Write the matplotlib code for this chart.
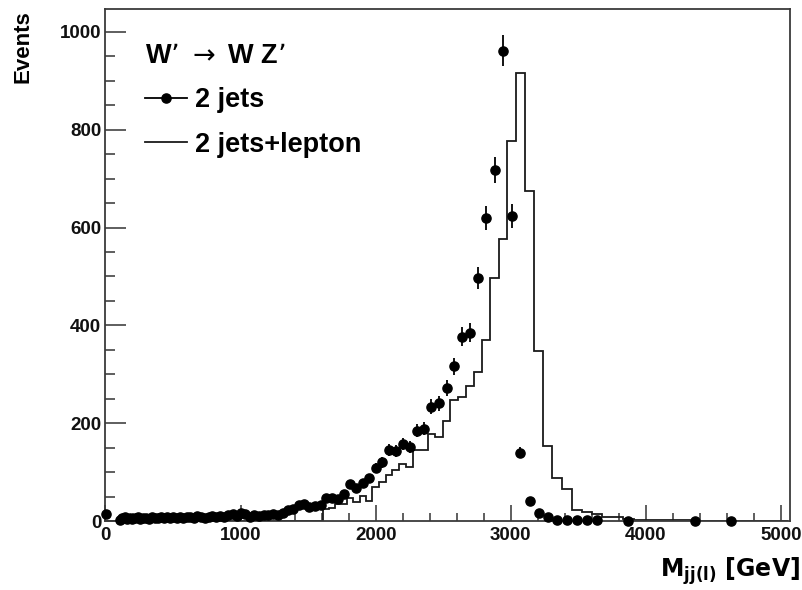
import numpy as np
import matplotlib
matplotlib.use("Agg")
import matplotlib.pyplot as plt
from matplotlib.ticker import MultipleLocator
from matplotlib.lines import Line2D
from matplotlib.font_manager import FontProperties

# Variable-width mass bins (GeV), shared by both distributions
bin_edges = [
    0, 10, 97,
    115, 133, 152, 171, 190, 209, 229, 249, 269, 290,
    311, 332, 354, 376, 398, 421, 444, 467, 491, 515,
    539, 564, 589, 615, 641, 667, 694, 721, 749, 777,
    806, 835, 864, 894, 925, 956, 987, 1019, 1052, 1085,
    1119, 1153, 1188, 1223, 1259, 1296, 1333, 1371, 1410, 1449,
    1489, 1530, 1571, 1613, 1656, 1699, 1743, 1788, 1834, 1880,
    1927, 1975, 2024, 2074, 2123, 2174, 2225, 2277, 2331, 2385,
    2440, 2497, 2552, 2607, 2665, 2724, 2786, 2849, 2911, 2973,
    3038, 3105, 3173, 3241, 3308, 3380, 3454, 3528, 3602, 3677,
    3753, 3831, 3910, 3990, 4071, 4154, 4238, 4323, 4410, 4498,
    4587, 4678, 4770, 4863, 4958, 5054,
]

# Events per bin, dijet selection
events_2jets = [
    14, 0,
    3, 6, 9, 5, 7, 4, 6, 8, 5, 6,
    7, 5, 8, 6, 7, 9, 6, 8, 7, 9,
    6, 8, 7, 9, 8, 7, 10, 8, 7, 9,
    11, 8, 10, 9, 12, 14, 11,
    16, 14, 9, 12, 10, 13, 12, 15, 13, 17,
    22, 25, 33, 34, 29, 30, 33, 47, 48, 45,
    56, 75, 68, 77, 87, 109, 120, 146, 143, 158,
    151, 185, 189, 234, 241, 272, 316, 377, 385, 497,
    619, 717, 962, 624, 140, 40, 17, 8, 3, 3,
    3, 3, 3, 0, 0, 1, 0, 0, 0, 0,
    0, 1, 0, 0, 1, 0, 0, 0, 0,
]

# Events per bin, dijet + lepton selection
events_2jets_lep = [
    0, 0,
    0, 0, 0, 0, 0, 0, 0, 0, 0, 0,
    0, 0, 0, 0, 0, 0, 0, 0, 0, 0,
    0, 0, 0, 0, 0, 0, 0, 0, 0, 0,
    0, 0, 0, 0, 0, 0, 0, 0, 0, 0,
    0, 0, 0, 0, 0, 0, 0, 0, 0, 0,
    0, 0, 0, 0,
    25, 27, 34, 35, 48, 39, 51, 41, 70, 80,
    95, 104, 116, 110, 145, 145, 178, 172, 205, 247,
    254, 277, 304, 370, 497, 577, 777, 917, 674, 348,
    154, 87, 65, 22, 19, 14, 8, 8, 4, 3,
    2, 3, 2, 2, 1, 1, 1, 1,
    0, 0, 0, 0,
]

edges = np.array(bin_edges, dtype=float)
centers = 0.5 * (edges[:-1] + edges[1:])
n2j = np.array(events_2jets, dtype=float)
nlep = np.array(events_2jets_lep, dtype=float)
filled = n2j > 0

W, H = 803, 590
fig = plt.figure(figsize=(W / 100, H / 100), dpi=100)
ax = fig.add_axes([105.5 / W, 1 - 521 / H, (790.5 - 105.5) / W, (521 - 9) / H])

ink = "#1a1a1a"
ax.stairs(nlep, edges, color=ink, lw=1.3, zorder=2)
ax.errorbar(centers[filled], n2j[filled], yerr=np.sqrt(n2j[filled]),
            fmt="o", color="black", ms=6.6, elinewidth=1.3, capsize=0,
            zorder=3, clip_on=False)

ax.set_xlim(0, 5070)
ax.set_ylim(0, 1047)

ax.xaxis.set_major_locator(MultipleLocator(1000))
ax.xaxis.set_minor_locator(MultipleLocator(200))
ax.yaxis.set_major_locator(MultipleLocator(200))
ax.yaxis.set_minor_locator(MultipleLocator(50))

tick_font = FontProperties(family="Liberation Sans", weight="bold", size=13.5)
ax.tick_params(axis="both", which="both", direction="in", colors="#333333",
               labelcolor="#111111", width=1.1, top=False, right=False)
ax.tick_params(axis="x", which="major", length=11.5, pad=4)
ax.tick_params(axis="x", which="minor", length=5.8)
ax.tick_params(axis="y", which="major", length=15, pad=3)
ax.tick_params(axis="y", which="minor", length=7.5)
for lab in ax.get_xticklabels() + ax.get_yticklabels():
    lab.set_fontproperties(tick_font)

for sp in ax.spines.values():
    sp.set_color("#3a3a3a")
    sp.set_linewidth(1.3)

fig.text(23 / W, 1 - 10 / H, "Events", rotation=90, ha="center", va="top",
         family="Liberation Sans", weight="bold", size=16)
fig.text(800 / W, 1 - 577 / H, r"M$_{\mathbf{jj(l)}}$ [GeV]", ha="right",
         va="baseline", family="DejaVu Sans", weight="bold", size=17)

handles = [
    Line2D([], [], color="black", lw=1.3, marker="o", ms=6.6),
    Line2D([], [], color=ink, lw=1.3),
]
leg = ax.legend(handles, ["2 jets", "2 jets+lepton"],
                title=r"W’ $\rightarrow$ W Z’", loc="upper left",
                bbox_to_anchor=((145 - 105.5) / 685, 1 - (43 - 9) / 512),
                frameon=False, borderpad=0, borderaxespad=0,
                handlelength=1.55, handletextpad=0.3, labelspacing=0.68,
                alignment="left",
                prop=dict(family="Liberation Sans", weight="bold", size=19.5),
                title_fontproperties=dict(family="Liberation Sans",
                                          weight="bold", size=19.5))

fig.savefig("out.png", dpi=100)
